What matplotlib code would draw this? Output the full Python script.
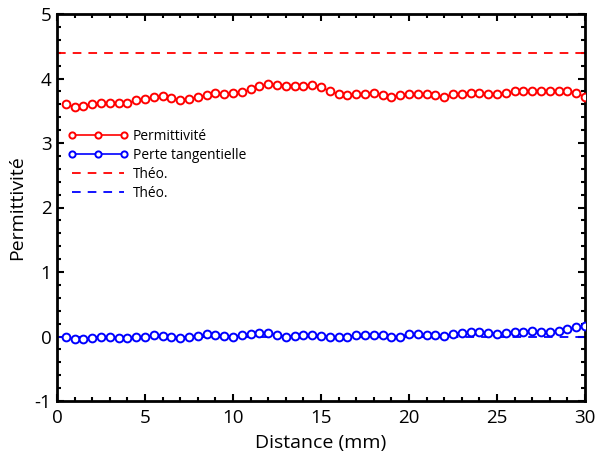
import numpy as np
import matplotlib
matplotlib.use("Agg")
import matplotlib.pyplot as plt
from matplotlib.ticker import MultipleLocator

plt.rcParams['font.family'] = ['Open Sans', 'DejaVu Sans']
plt.rcParams['axes.unicode_minus'] = False

distance = [0.5 * (i + 1) for i in range(60)]
permittivite = [3.60, 3.56, 3.57, 3.60, 3.62, 3.62, 3.62, 3.62, 3.66, 3.68,
                3.71, 3.73, 3.70, 3.67, 3.68, 3.71, 3.75, 3.77, 3.76, 3.77,
                3.79, 3.83, 3.88, 3.91, 3.90, 3.89, 3.89, 3.89, 3.90, 3.87,
                3.80, 3.76, 3.74, 3.76, 3.76, 3.78, 3.74, 3.72, 3.74, 3.76,
                3.76, 3.76, 3.74, 3.71, 3.76, 3.76, 3.78, 3.78, 3.76, 3.76,
                3.77, 3.80, 3.80, 3.81, 3.81, 3.81, 3.81, 3.80, 3.78, 3.71]
perte = [-0.01, -0.04, -0.04, -0.02, 0.00, -0.01, -0.02, -0.03, -0.01, 0.00,
         0.02, 0.01, -0.01, -0.02, 0.00, 0.01, 0.04, 0.03, 0.01, 0.00,
         0.02, 0.04, 0.06, 0.05, 0.03, 0.00, 0.01, 0.03, 0.02, 0.01,
         0.00, -0.01, 0.00, 0.02, 0.03, 0.03, 0.02, -0.01, 0.00, 0.04,
         0.04, 0.03, 0.02, 0.01, 0.04, 0.06, 0.065, 0.065, 0.055, 0.04,
         0.06, 0.065, 0.075, 0.08, 0.07, 0.07, 0.085, 0.115, 0.14, 0.17]
theo_perm = 4.4
theo_perte = 0.0

fig = plt.figure(figsize=(5.96, 4.59), dpi=100)
ax = fig.add_axes([57/596, 1 - 401/459, (585-57)/596, (401-14)/459])

mk = dict(marker='o', markersize=5.6, markerfacecolor='white',
          markeredgewidth=1.4, lw=1.2, zorder=3)
ax.plot(distance, permittivite, color='red', label='Permittivité', **mk)
ax.plot(distance, perte, color='blue', label='Perte tangentielle', **mk)
dash = (0, (4.8, 3.9))
ax.axhline(theo_perm, color='red', ls=dash, lw=1.3, label='Théo.')
ax.axhline(theo_perte, color='blue', ls=dash, lw=1.3, label='Théo.', zorder=2)

ax.set_xlim(0, 30)
ax.set_ylim(-1, 5)
ax.xaxis.set_major_locator(MultipleLocator(5))
ax.xaxis.set_minor_locator(MultipleLocator(1))
ax.yaxis.set_major_locator(MultipleLocator(1))
ax.yaxis.set_minor_locator(MultipleLocator(0.2))
ax.tick_params(which='both', direction='in', top=True, right=True, width=1.5,
               labelsize=13.5)
ax.tick_params(axis='x', pad=6)
ax.tick_params(axis='y', pad=4)
ax.tick_params(which='major', length=5)
ax.tick_params(which='minor', length=3)
for s in ax.spines.values():
    s.set_linewidth(2)

ax.set_xlabel('Distance (mm)', fontsize=14, labelpad=5)
ax.set_ylabel('Permittivité', fontsize=14, labelpad=6)

leg = ax.legend(loc='upper left', bbox_to_anchor=(0.005, 0.725), frameon=False,
                fontsize=9.9, numpoints=3, handlelength=4.4, handletextpad=0.3,
                labelspacing=0.3, borderaxespad=0.2, markerscale=0.8)

fig.savefig('out.png', dpi=100)
